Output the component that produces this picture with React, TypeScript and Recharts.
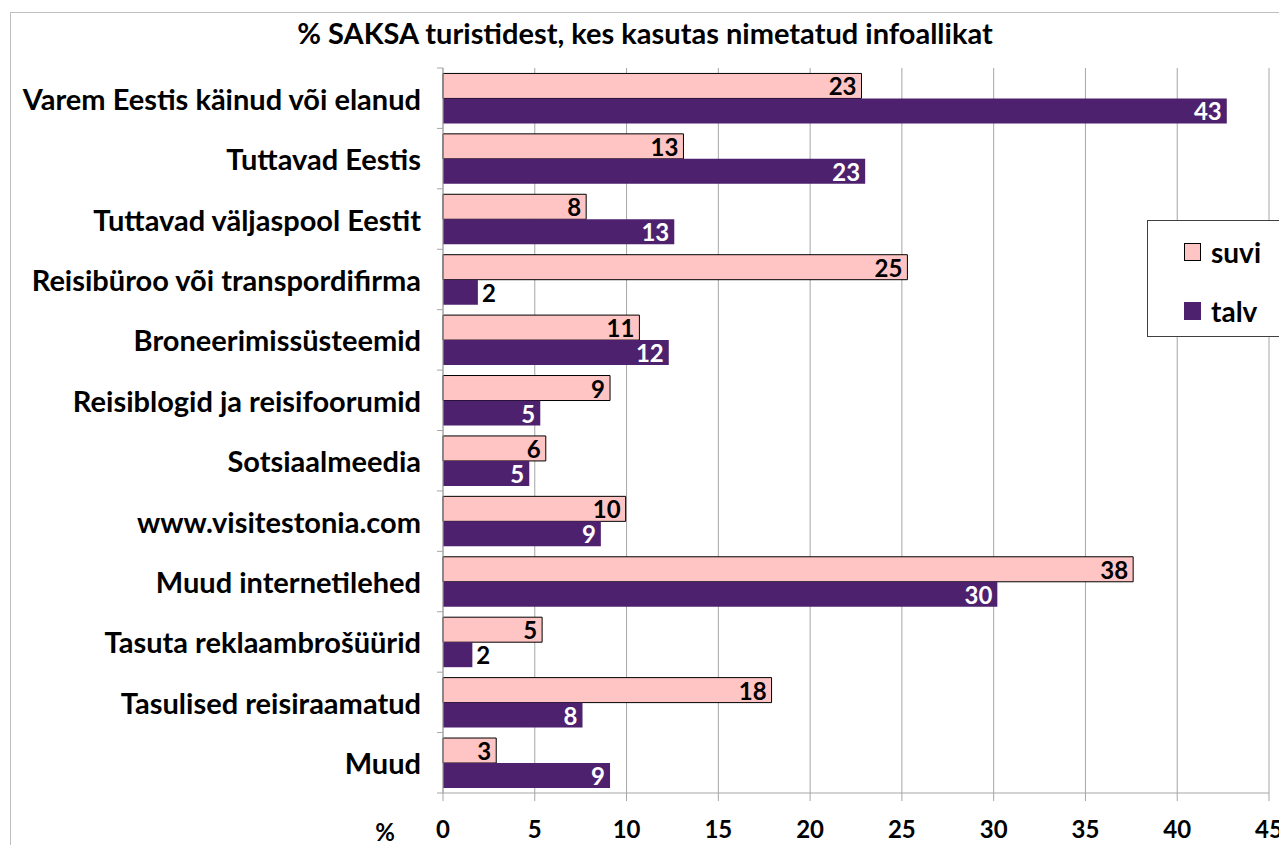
import React from "react";
import { BarChart, Bar, XAxis, YAxis, CartesianGrid, LabelList } from "recharts";

const categories = [
  "Varem Eestis käinud või elanud",
  "Tuttavad Eestis",
  "Tuttavad väljaspool Eestit",
  "Reisibüroo või transpordifirma",
  "Broneerimissüsteemid",
  "Reisiblogid ja reisifoorumid",
  "Sotsiaalmeedia",
  "www.visitestonia.com",
  "Muud internetilehed",
  "Tasuta reklaambrošüürid",
  "Tasulised reisiraamatud",
  "Muud",
];
const suvi = [22.8, 13.1, 7.8, 25.3, 10.7, 9.1, 5.6, 9.95, 37.6, 5.4, 17.9, 2.9];
const talv = [42.7, 23.0, 12.6, 1.9, 12.3, 5.3, 4.7, 8.6, 30.2, 1.6, 7.6, 9.1];
const seriesNames = ["suvi", "talv"];
const xTicks = [0, 5, 10, 15, 20, 25, 30, 35, 40, 45];
const title = "% SAKSA turistidest, kes kasutas nimetatud infoallikat";

const data = categories.map((name, i) => ({ name, suvi: suvi[i], talv: talv[i] }));

const FONT = "Lato, 'Open Sans', sans-serif";
const PINK = "#FFC4C4";
const PURPLE = "#4E216E";
const GRID = "#A6A6A6";

// plot box (page coords)
const PLOT_TOP = 68;
const PLOT_BOTTOM = 793;
const band = (PLOT_BOTTOM - PLOT_TOP) / categories.length;

const YTick = (props: any) => {
  const { x, y, payload, index } = props;
  const axisX = x + 22;
  return (
    <g>
      <line x1={axisX - 6} x2={axisX} y1={y - band / 2} y2={y - band / 2} stroke={GRID} />
      {index === categories.length - 1 && (
        <line x1={axisX - 6} x2={axisX} y1={y + band / 2} y2={y + band / 2} stroke={GRID} />
      )}
      <text
        x={x}
        y={y}
        textAnchor="end"
        dominantBaseline="central"
        fontFamily={FONT}
        fontWeight={700}
        fontSize={29}
        fill="#000"
      >
        {payload.value}
      </text>
    </g>
  );
};

const makeLabel = (color: string) => (props: any) => {
  const { x, y, width, height, value } = props;
  const txt = String(Math.round(value));
  const tw = txt.length * 14;
  const inside = width > tw + 24;
  return (
    <text
      x={inside ? x + width - 5 : x + width + 4}
      y={y + height / 2}
      textAnchor={inside ? "end" : "start"}
      dominantBaseline="central"
      fontFamily={FONT}
      fontWeight={700}
      fontSize={24}
      fill={inside ? color : "#000"}
    >
      {txt}
    </text>
  );
};

export default function App() {
  return (
    <div
      style={{
        position: "relative",
        width: 1279,
        height: 837,
        overflow: "hidden",
        fontFamily: FONT,
        fontWeight: 700,
      }}
    >
      <div
        style={{
          position: "absolute",
          left: 2,
          top: 4,
          width: 1400,
          height: 1000,
          border: "1px solid #BFBFBF",
          boxSizing: "border-box",
        }}
      />
      <div style={{ position: "absolute", left: -8, top: -8 }}>
        <BarChart
          width={1287}
          height={845}
          data={data}
          layout="vertical"
          margin={{ top: PLOT_TOP, right: 18, bottom: 0, left: 0 }}
          barCategoryGap="9%"
          barGap={0}
        >
          <CartesianGrid horizontal={false} stroke={GRID} />
          <XAxis
            type="number"
            domain={[0, 45]}
            ticks={xTicks}
            interval={0}
            stroke={GRID}
            tickSize={8}
            tickMargin={20}
            height={845 - PLOT_BOTTOM}
            tick={{ fill: "#000", fontFamily: FONT, fontWeight: 700, fontSize: 24 }}
          />
          <YAxis
            type="category"
            dataKey="name"
            width={443}
            stroke={GRID}
            tickLine={false}
            tickSize={5}
            tickMargin={17}
            interval={0}
            tick={<YTick />}
          />
          <Bar dataKey="suvi" name={seriesNames[0]} fill={PINK} stroke="#000" strokeWidth={1} isAnimationActive={false}>
            <LabelList dataKey="suvi" content={makeLabel("#000")} />
          </Bar>
          <Bar dataKey="talv" name={seriesNames[1]} fill={PURPLE} isAnimationActive={false}>
            <LabelList dataKey="talv" content={makeLabel("#fff")} />
          </Bar>
        </BarChart>
      </div>
      <div
        style={{
          position: "absolute",
          left: -8,
          top: 9,
          width: 1290,
          textAlign: "center",
          fontSize: 29,
          lineHeight: "32px",
          whiteSpace: "nowrap",
        }}
      >
        {title}
      </div>
      <div
        style={{
          position: "absolute",
          left: 357,
          top: 810,
          width: 40,
          textAlign: "center",
          fontSize: 24,
          lineHeight: "28px",
        }}
      >
        %
      </div>
      <div
        style={{
          position: "absolute",
          left: 1139,
          top: 212,
          width: 200,
          height: 115,
          border: "1px solid #404040",
          background: "#fff",
        }}
      >
        {seriesNames.map((n, i) => (
          <div
            key={n}
            style={{
              position: "absolute",
              left: 36,
              top: 16 + i * 59,
              display: "flex",
              alignItems: "center",
              fontSize: 28,
              lineHeight: "30px",
            }}
          >
            <span
              style={{
                display: "inline-block",
                width: 17,
                height: 18,
                background: i === 0 ? PINK : PURPLE,
                border: i === 0 ? "1px solid #000" : "none",
                boxSizing: "border-box",
                marginRight: 10,
              }}
            />
            {n}
          </div>
        ))}
      </div>
    </div>
  );
}
